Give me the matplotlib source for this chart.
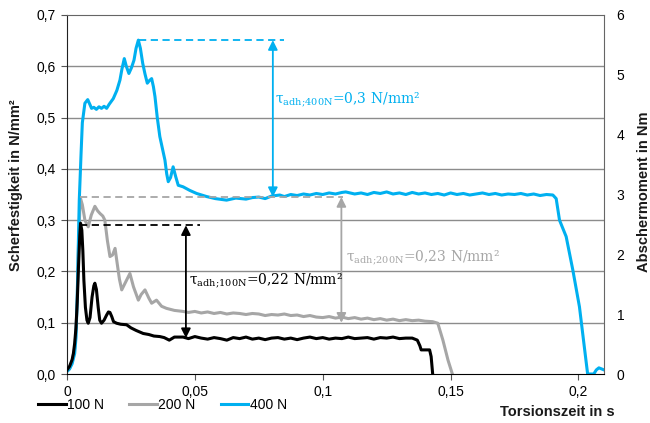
import matplotlib
matplotlib.use("Agg")
import matplotlib.pyplot as plt

# ---------------- data ----------------
x_100 = [0, 0.001, 0.002, 0.0025, 0.003, 0.0035, 0.004, 0.0045, 0.005, 0.0053, 0.0058, 0.0062,
         0.0066, 0.0072, 0.0078, 0.0083, 0.009, 0.0098, 0.0105, 0.0109, 0.0115, 0.0122, 0.0128,
         0.0135, 0.0145, 0.0155, 0.0162, 0.0168, 0.0175, 0.0182, 0.0194, 0.021, 0.0233, 0.025,
         0.027, 0.0298, 0.032, 0.034, 0.0363, 0.038, 0.040, 0.042, 0.0454, 0.0475, 0.050, 0.0525,
         0.055, 0.0575, 0.060, 0.0625, 0.065, 0.0675, 0.070, 0.0725, 0.075, 0.0775, 0.080, 0.0825,
         0.085, 0.0875, 0.090, 0.0925, 0.095, 0.0975, 0.100, 0.1025, 0.105, 0.1075, 0.110, 0.1125,
         0.115, 0.1175, 0.120, 0.1225, 0.125, 0.1275, 0.130, 0.1325, 0.135, 0.137, 0.138, 0.1385,
         0.1418, 0.1424, 0.143]
y_100 = [0.008, 0.015, 0.028, 0.040, 0.060, 0.090, 0.140, 0.210, 0.270, 0.294, 0.280, 0.240,
         0.183, 0.130, 0.105, 0.099, 0.110, 0.150, 0.172, 0.177, 0.165, 0.130, 0.105,
         0.099, 0.105, 0.115, 0.121, 0.120, 0.112, 0.102, 0.099, 0.097, 0.096, 0.090,
         0.085, 0.079, 0.077, 0.074, 0.073, 0.071, 0.066, 0.072, 0.072, 0.069, 0.073, 0.070,
         0.068, 0.071, 0.069, 0.066, 0.071, 0.069, 0.072, 0.068, 0.070, 0.067, 0.070, 0.071,
         0.068, 0.070, 0.067, 0.070, 0.072, 0.069, 0.071, 0.068, 0.070, 0.069, 0.072, 0.069,
         0.070, 0.071, 0.068, 0.071, 0.070, 0.072, 0.069, 0.070, 0.070, 0.066, 0.055, 0.047,
         0.047, 0.034, 0.0]

x_200 = [0, 0.001, 0.002, 0.003, 0.0035, 0.004, 0.0045, 0.005, 0.0053, 0.006, 0.007, 0.0083,
         0.0095, 0.0109, 0.012, 0.0129, 0.014, 0.0148, 0.0158, 0.0168, 0.0178, 0.0188, 0.0195,
         0.0205, 0.0214, 0.023, 0.0246, 0.026, 0.0279, 0.029, 0.0305, 0.032, 0.0331, 0.035,
         0.037, 0.0389, 0.042, 0.0454, 0.0475, 0.050, 0.0525, 0.055, 0.0575, 0.060, 0.0625,
         0.065, 0.0675, 0.070, 0.0725, 0.075, 0.0775, 0.080, 0.0825, 0.085, 0.0875, 0.090,
         0.0925, 0.095, 0.0975, 0.100, 0.1025, 0.105, 0.1075, 0.110, 0.1125, 0.115, 0.1175,
         0.120, 0.1225, 0.125, 0.1275, 0.130, 0.1325, 0.135, 0.1375, 0.140, 0.143, 0.145,
         0.147, 0.149, 0.1507]
y_200 = [0.005, 0.010, 0.025, 0.050, 0.080, 0.150, 0.250, 0.320, 0.342, 0.330, 0.300, 0.287,
         0.310, 0.327, 0.318, 0.313, 0.308, 0.300, 0.260, 0.229, 0.232, 0.245, 0.220,
         0.185, 0.164, 0.180, 0.196, 0.170, 0.144, 0.155, 0.164, 0.148, 0.138, 0.144,
         0.132, 0.128, 0.124, 0.122, 0.120, 0.122, 0.119, 0.121, 0.118, 0.120, 0.117,
         0.119, 0.118, 0.116, 0.118, 0.117, 0.114, 0.116, 0.115, 0.117, 0.114, 0.115,
         0.112, 0.114, 0.111, 0.110, 0.112, 0.109, 0.111, 0.108, 0.110, 0.107, 0.109,
         0.106, 0.108, 0.105, 0.107, 0.104, 0.106, 0.104, 0.105, 0.103, 0.102, 0.099,
         0.066, 0.027, 0.0]

x_400 = [0, 0.001, 0.002, 0.003, 0.0035, 0.004, 0.0045, 0.0048, 0.0055, 0.006, 0.007, 0.0081,
         0.009, 0.0096, 0.0105, 0.0115, 0.0125, 0.0135, 0.0145, 0.0155, 0.0165, 0.0181, 0.0195,
         0.0207, 0.0215, 0.0224, 0.0232, 0.0242, 0.0252, 0.0262, 0.027, 0.0279, 0.0287, 0.0296,
         0.0305, 0.0314, 0.0322, 0.0331, 0.0338, 0.0344, 0.0353, 0.0363, 0.0373, 0.0383, 0.039,
         0.0396, 0.0405, 0.0415, 0.0425, 0.0435, 0.0454, 0.048, 0.0507, 0.0546, 0.058, 0.0624,
         0.066, 0.070, 0.0725, 0.075, 0.0775, 0.080, 0.0832, 0.085, 0.0875, 0.090, 0.0925,
         0.095, 0.0975, 0.100, 0.1025, 0.105, 0.1075, 0.109, 0.1125, 0.115, 0.1175, 0.120,
         0.1225, 0.125, 0.1275, 0.130, 0.1325, 0.135, 0.1375, 0.140, 0.1425, 0.145, 0.1475,
         0.150, 0.1525, 0.155, 0.1575, 0.160, 0.1625, 0.165, 0.1675, 0.170, 0.1725, 0.175,
         0.1775, 0.180, 0.1825, 0.185, 0.1875, 0.190, 0.1913, 0.1926, 0.1952, 0.1978, 0.2004,
         0.2023, 0.2036, 0.206, 0.207, 0.208, 0.209, 0.210]
y_400 = [0.005, 0.010, 0.020, 0.040, 0.070, 0.150, 0.270, 0.339, 0.430, 0.490, 0.528, 0.535,
         0.525, 0.518, 0.520, 0.516, 0.521, 0.518, 0.522, 0.518, 0.526, 0.537, 0.553,
         0.573, 0.595, 0.615, 0.600, 0.586, 0.597, 0.612, 0.635, 0.651, 0.635, 0.606,
         0.585, 0.567, 0.572, 0.576, 0.560, 0.541, 0.500, 0.463, 0.440, 0.417, 0.390,
         0.375, 0.383, 0.404, 0.385, 0.368, 0.365, 0.358, 0.352, 0.346, 0.342, 0.339,
         0.343, 0.341, 0.344, 0.345, 0.342, 0.347, 0.349, 0.346, 0.350, 0.348, 0.351,
         0.349, 0.352, 0.350, 0.353, 0.351, 0.354, 0.355, 0.351, 0.353, 0.350, 0.354,
         0.352, 0.355, 0.351, 0.353, 0.350, 0.354, 0.351, 0.353, 0.350, 0.352, 0.349,
         0.353, 0.350, 0.352, 0.349, 0.351, 0.353, 0.350, 0.352, 0.349, 0.351, 0.350,
         0.352, 0.349, 0.351, 0.348, 0.350, 0.349, 0.342, 0.300, 0.268, 0.203, 0.131,
         0.053, 0.0, 0.0, 0.008, 0.012, 0.010, 0.008]

series_labels = ["100 N", "200 N", "400 N"]
x_ticks = [0, 0.05, 0.1, 0.15, 0.2]
x_ticklabels = ["0", "0,05", "0,1", "0,15", "0,2"]
y_ticks = [0, 0.1, 0.2, 0.3, 0.4, 0.5, 0.6, 0.7]
y_ticklabels = ["0,0", "0,1", "0,2", "0,3", "0,4", "0,5", "0,6", "0,7"]
y2_ticks = [0, 1, 2, 3, 4, 5, 6]

# annotation levels (tau_adh)
tau_400 = (0.651, 0.345)
tau_200 = (0.345, 0.100)
tau_100 = (0.290, 0.070)
tau_labels = [r"τ$_{\mathregular{adh;\!400N}}$=0,3 N/mm²",
              r"τ$_{\mathregular{adh;\!200N}}$=0,23 N/mm²",
              r"τ$_{\mathregular{adh;\!100N}}$=0,22 N/mm²"]

# ---------------- style ----------------
plt.rcParams['font.family'] = ['Liberation Sans', 'DejaVu Sans']
plt.rcParams['mathtext.fontset'] = 'dejavuserif'

C_BLACK = "#000000"
C_GRAY = "#A6A6A6"
C_BLUE = "#00B0F0"

fig = plt.figure(figsize=(6.5, 4.23), dpi=100)
ax = fig.add_axes([67/650, 1-374/423, (604-67)/650, (374-15)/423])

ax.set_xlim(0, 0.21)
ax.set_ylim(0, 0.7)
for yv in y_ticks[1:-1]:
    ax.axhline(yv, color="#8C8C8C", lw=1.0, zorder=0)

l1, = ax.plot(x_100, y_100, color=C_BLACK, lw=2.2, zorder=3)
l2, = ax.plot(x_200, y_200, color=C_GRAY, lw=2.2, zorder=2)
l3, = ax.plot(x_400, y_400, color=C_BLUE, lw=2.2, zorder=2.5)

ax.set_xticks(x_ticks)
ax.set_xticklabels(x_ticklabels, fontsize=10)
ax.set_yticks(y_ticks)
ax.set_yticklabels(y_ticklabels, fontsize=10)
ax.tick_params(axis='both', length=4, width=0.8, color="#555555", pad=4)

for s in ["top", "right"]:
    ax.spines[s].set_color("#666666")
ax.spines["left"].set_color("#222222")
ax.spines["bottom"].set_color("#000000")

ax2 = ax.twinx()
ax2.set_ylim(0, 6)
ax2.set_yticks(y2_ticks)
ax2.set_yticklabels([str(v) for v in y2_ticks], fontsize=10)
ax2.tick_params(axis='y', length=0, pad=9)
for s in ax2.spines.values():
    s.set_visible(False)

# ---------------- annotations ----------------
def tau_annot(xa, yr, x0, x1, color, tx, ty, label):
    ax.plot([x0, x1], [yr[0], yr[0]], ls=(0, (4, 2.5)), color=color, lw=1.3, zorder=4)
    ax.annotate("", xy=(xa, yr[1]), xytext=(xa, yr[0]),
                arrowprops=dict(arrowstyle="<|-|>", color=color, lw=1.3,
                                mutation_scale=14, shrinkA=0, shrinkB=0), zorder=5)
    ax.text(tx, ty, label, color=color, fontsize=10, family="DejaVu Serif",
            ha="left", va="center", zorder=6)

tau_annot(0.0805, tau_400, 0.028, 0.085, C_BLUE, 0.0815, 0.534, tau_labels[0])
tau_annot(0.1073, tau_200, 0.005, 0.108, C_GRAY, 0.109, 0.226, tau_labels[1])
tau_annot(0.0465, tau_100, 0.005, 0.052, C_BLACK, 0.0477, 0.181, tau_labels[2])

# ---------------- labels ----------------
fig.text(16/650, 1-185/423, "Scherfestigkeit in N/mm²", rotation=90, ha="center",
         va="center", fontsize=10.5, fontweight="bold", color="#1a1a1a")
fig.text(644/650, 1-192/423, "Abschermoment in Nm", rotation=90, ha="center",
         va="center", fontsize=10.5, fontweight="bold", color="#1a1a1a")
fig.text(615/650, 1-412/423, "Torsionszeit in s", ha="right", va="center",
         fontsize=10.5, fontweight="bold", color="#1a1a1a")

fig.legend([l1, l2, l3], series_labels, loc="center left",
           bbox_to_anchor=(38/650, 1-405/423), ncol=3, frameon=False, fontsize=10,
           handlelength=2.0, handletextpad=0.1, columnspacing=1.8, borderaxespad=0,
           borderpad=0)

fig.savefig("out.png", dpi=100)
